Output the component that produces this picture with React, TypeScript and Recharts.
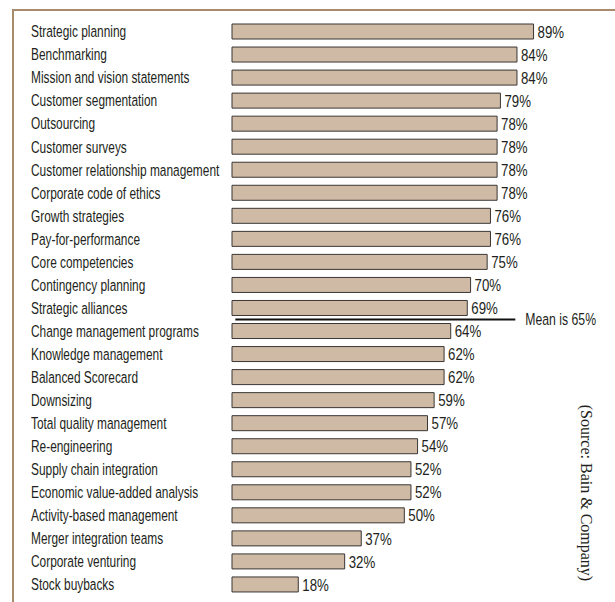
import React from 'react';
import { BarChart, Bar, XAxis, YAxis, LabelList, ReferenceLine } from 'recharts';

// survey categories, top to bottom
const tools = [
  'Strategic planning',
  'Benchmarking',
  'Mission and vision statements',
  'Customer segmentation',
  'Outsourcing',
  'Customer surveys',
  'Customer relationship management',
  'Corporate code of ethics',
  'Growth strategies',
  'Pay-for-performance',
  'Core competencies',
  'Contingency planning',
  'Strategic alliances',
  'Change management programs',
  'Knowledge management',
  'Balanced Scorecard',
  'Downsizing',
  'Total quality management',
  'Re-engineering',
  'Supply chain integration',
  'Economic value-added analysis',
  'Activity-based management',
  'Merger integration teams',
  'Corporate venturing',
  'Stock buybacks',
];

const usage = [89, 84, 84, 79, 78, 78, 78, 78, 76, 76, 75, 70, 69, 64, 62, 62, 59, 57, 54, 52, 52, 50, 37, 32, 18];

const meanLabel = 'Mean is 65%';
const meanFrom = 'Change management programs';
const sourceNote = '(Source: Bain & Company)';

const data = tools.map((name, i) => ({ name, value: usage[i] }));

// bars in the original start a little left of zero
const BAR_START = -2;

const FONT = '"Liberation Sans", Arial, sans-serif';
const FS = 17;
const TEXT = '#231f20';

// no condensed face installed, so squeeze the regular one
const Narrow = ({ x, y, sx = 0.7, children }: { x: number; y: number; sx?: number; children: React.ReactNode }) => (
  <text
    transform={`translate(${x},${y}) scale(${sx},1)`}
    x={0}
    y={0}
    textAnchor="start"
    dominantBaseline="central"
    fill={TEXT}
    fontSize={FS}
    fontFamily={FONT}
  >
    {children}
  </text>
);

const LeftTick = (props: any) => <Narrow x={31} y={props.y}>{props.payload.value}</Narrow>;

const ValueLabel = (props: any) => {
  const { x, y, width, height, value } = props;
  return <Narrow x={x + width + 4} y={y + height / 2} sx={0.78}>{`${value}%`}</Narrow>;
};

const MeanText = (props: any) => {
  const vb = props.viewBox || {};
  return <Narrow x={vb.x + (vb.width || 0) + 10} y={vb.y} sx={0.72}>{meanLabel}</Narrow>;
};

export default function App() {
  return (
    <div style={{ position: 'absolute', left: 0, top: 0, width: 615, height: 602, background: '#fff', overflow: 'hidden' }}>
      <div
        style={{
          position: 'absolute',
          left: 12,
          top: 9,
          width: 640,
          height: 640,
          borderLeft: '2px solid #a88b6d',
          borderTop: '2px solid #a88b6d',
        }}
      />
      <BarChart
        width={615}
        height={602}
        data={data}
        layout="vertical"
        margin={{ top: 20, right: 45, bottom: 6, left: 0 }}
        style={{ position: 'absolute', left: 0, top: 0 }}
      >
        <XAxis type="number" domain={[BAR_START, 100]} hide />
        <YAxis type="category" dataKey="name" width={232} axisLine={false} tickLine={false} tick={<LeftTick />} interval={0} />
        <Bar
          dataKey={(d: any) => [BAR_START, d.value]}
          barSize={15}
          fill="#cfbba5"
          stroke="#3a3634"
          strokeWidth={1}
          isAnimationActive={false}
        >
          <LabelList dataKey="value" content={<ValueLabel />} />
        </Bar>
        <ReferenceLine
          segment={[
            { x: -1, y: meanFrom },
            { x: 83.5, y: meanFrom },
          ]}
          position="start"
          stroke="#111"
          strokeWidth={2}
          label={<MeanText />}
        />
      </BarChart>
      <svg width={615} height={602} style={{ position: 'absolute', left: 0, top: 0, pointerEvents: 'none' }}>
        <text
          x={586}
          y={493}
          transform="rotate(90, 586, 493)"
          textAnchor="middle"
          dominantBaseline="central"
          fontFamily='"Liberation Serif", "DejaVu Serif", serif'
          fontSize={16}
          fill={TEXT}
        >
          {sourceNote}
        </text>
      </svg>
    </div>
  );
}
